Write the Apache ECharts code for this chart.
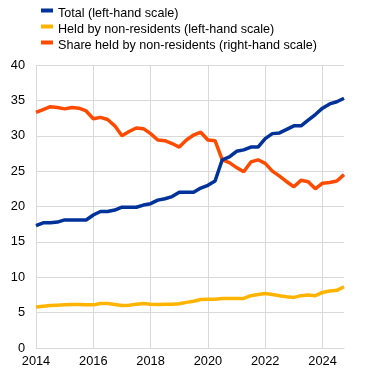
<!DOCTYPE html>
<html>
<head>
<meta charset="utf-8">
<script src="https://cdn.jsdelivr.net/npm/echarts@6/dist/echarts.min.js"></script>
<style>html,body{margin:0;padding:0;background:#fff}#c{width:372px;height:373px}</style>
</head>
<body>
<div id="c"></div>
<script>
// Quarterly observations, 2014 Q1 .. 2024 Q4
const quarters = [];
for (let y = 2014; y <= 2024; y++) for (let q = 1; q <= 4; q++) quarters.push(y + ' Q' + q);

const seriesNames = [
  'Total (left-hand scale)',
  'Held by non-residents (left-hand scale)',
  'Share held by non-residents (right-hand scale)'
];

const total = [17.3,17.7,17.7,17.8,18.1,18.1,18.1,18.1,18.8,19.3,19.3,19.5,19.9,19.9,19.9,20.2,20.4,20.9,21.1,21.4,22.0,22.0,22.0,22.6,23.0,23.6,26.6,27.0,27.8,28.0,28.4,28.4,29.6,30.3,30.4,30.9,31.4,31.4,32.2,33.0,33.9,34.5,34.8,35.3];
const heldByNonResidents = [5.8,5.9,6.0,6.05,6.1,6.15,6.15,6.1,6.1,6.3,6.3,6.15,6.0,6.05,6.2,6.3,6.2,6.15,6.2,6.2,6.25,6.45,6.6,6.85,6.9,6.9,7.0,7.0,7.0,7.0,7.4,7.55,7.7,7.55,7.4,7.25,7.15,7.4,7.5,7.4,7.85,8.05,8.15,8.65];
const shareHeld = [33.3,33.7,34.1,34.0,33.8,34.0,33.9,33.5,32.4,32.6,32.3,31.4,30.0,30.6,31.1,31.0,30.3,29.4,29.3,28.9,28.4,29.4,30.1,30.5,29.4,29.3,26.6,26.2,25.5,24.9,26.3,26.6,26.1,25.0,24.3,23.5,22.8,23.7,23.5,22.5,23.3,23.4,23.6,24.5];

const colors = ['#003299', '#ffb400', '#ff4b00'];
const gridColor = '#d9d9d9';
const font = 'Liberation Sans, Arial, sans-serif';
const legendIcon = 'path://M0,0H12V4H0Z M0,10H0.001V10.001H0Z';

const chart = echarts.init(document.getElementById('c'), null, {renderer: 'canvas'});
chart.setOption({
  animation: false,
  color: colors,
  textStyle: {fontFamily: font},
  legend: {
    left: 36, top: 2, orient: 'vertical',
    itemWidth: 12, itemHeight: 10, itemGap: 3,
    icon: legendIcon,
    textStyle: {fontSize: 12.6, color: '#000', fontFamily: font},
    data: seriesNames
  },
  grid: {left: 36, right: 28, top: 65, bottom: 25, containLabel: false},
  xAxis: {
    type: 'category', data: quarters, boundaryGap: false,
    axisLine: {show: true, lineStyle: {color: gridColor}},
    axisTick: {show: false},
    axisLabel: {interval: 7, color: '#000', fontSize: 12.8, fontFamily: font, margin: 7,
      formatter: v => v.slice(0, 4)},
    splitLine: {show: true, interval: 7, lineStyle: {color: gridColor, width: 1}}
  },
  yAxis: [{
    type: 'value', min: 0, max: 40, interval: 5,
    axisLine: {show: false}, axisTick: {show: false},
    axisLabel: {color: '#000', fontSize: 12.8, fontFamily: font, margin: 11},
    splitLine: {show: true, lineStyle: {color: gridColor, width: 1}}
  }, {
    type: 'value', min: 0, max: 40, interval: 5, position: 'right',
    axisLine: {show: false}, axisTick: {show: false}, axisLabel: {show: false},
    splitLine: {show: false}
  }],
  series: [
    {name: seriesNames[0], type: 'line', data: total, yAxisIndex: 0, symbol: 'none', lineStyle: {width: 3.5, color: colors[0]}, z: 3},
    {name: seriesNames[1], type: 'line', data: heldByNonResidents, yAxisIndex: 0, symbol: 'none', lineStyle: {width: 3.5, color: colors[1]}, z: 2},
    {name: seriesNames[2], type: 'line', data: shareHeld, yAxisIndex: 1, symbol: 'none', lineStyle: {width: 3.5, color: colors[2]}, z: 2}
  ]
});
</script>
</body>
</html>
